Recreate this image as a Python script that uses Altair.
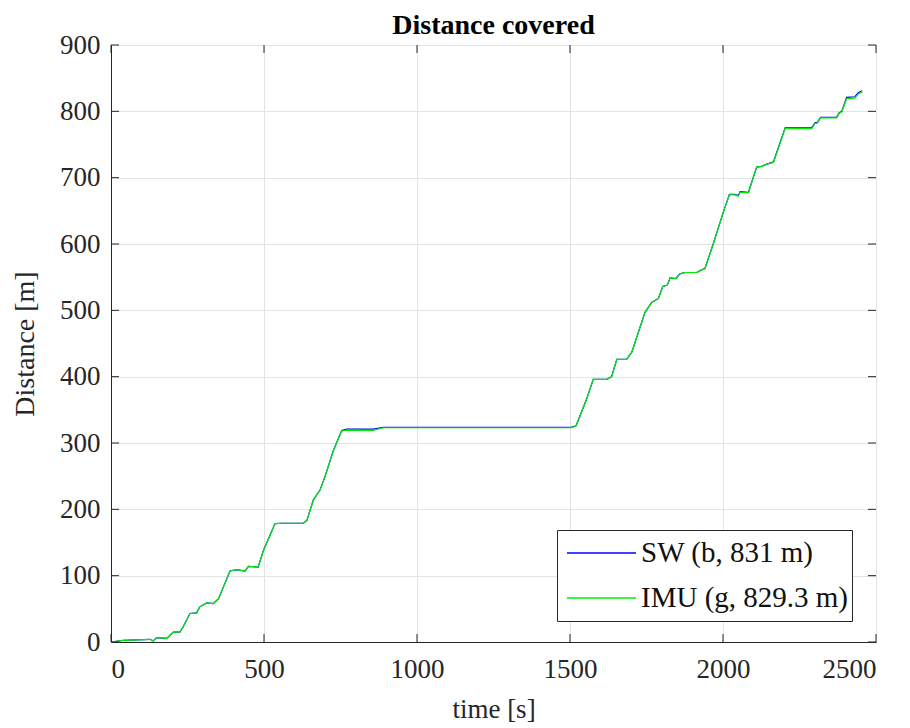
import altair as alt
import pandas as pd

# Time stamps [s] of the sampled track
time_s = [0, 40, 128, 138, 149, 182, 204, 225, 236, 258, 280, 290, 313, 334, 351,
          389, 411, 438, 449, 481, 498, 536, 560, 628, 640, 661, 683, 699, 727, 754,
          770, 857, 890, 1000, 1200, 1400, 1505, 1520, 1555, 1576, 1620, 1636, 1653,
          1685, 1702, 1745, 1767, 1789, 1803, 1818, 1827, 1846, 1859, 1876, 1914,
          1930, 1941, 1968, 2001, 2021, 2039, 2050, 2056, 2083, 2110, 2126, 2141,
          2165, 2203, 2290, 2301, 2308, 2319, 2371, 2380, 2388, 2404, 2431, 2442, 2455]

# Cumulative distance [m] from the smartwatch
dist_sw = [0, 2.5, 4, 1.5, 6.5, 5.5, 15, 15, 23, 43, 44, 53, 59, 58, 65,
           107, 109, 107, 114, 113, 138, 178.5, 179, 179, 183, 214, 229, 249, 289, 319,
           321, 321, 323.5, 323.5, 323.5, 323.5, 323.5, 326, 367, 396, 396, 400, 426,
           426, 437, 497, 512, 518, 536, 538, 549, 548, 555, 557, 557,
           561, 563, 600, 648, 675, 675, 673, 679, 678, 716, 717, 720,
           724, 775, 775, 783, 783, 791, 791, 798, 800, 821, 822, 828, 831]

# Cumulative distance [m] from the IMU
dist_imu = [0, 2.5, 4, 1.5, 6.5, 5.5, 15, 15, 23, 43, 44, 53, 59, 58, 65,
            107, 109, 107, 114, 113, 138, 178.5, 179, 179, 183, 214, 229, 249, 289, 318,
            319.5, 319, 323, 323, 323, 323, 323, 326, 367, 396, 396, 400, 426,
            426, 437, 497, 512, 518, 536, 538, 549, 548, 555, 557, 557,
            561, 563, 600, 648, 674, 674, 672, 678, 677, 716, 717, 720,
            723, 774, 774, 782, 782, 790, 790, 797, 799, 819, 820, 826, 829.3]

series_names = ["SW (b, 831 m)", "IMU (g, 829.3 m)"]
series_colors = ["#0000ff", "#00ee00"]

x_ticks = [0, 500, 1000, 1500, 2000, 2500]
y_ticks = [0, 100, 200, 300, 400, 500, 600, 700, 800, 900]

rows = []
for i, (name, vals) in enumerate(zip(series_names, [dist_sw, dist_imu])):
    for t, d in zip(time_s, vals):
        rows.append({"time": t, "dist": d, "series": name, "order": i})
df = pd.DataFrame(rows)

W, H = 765, 597
FONT = "Liberation Serif"
AX = "#262626"
TICK_LEN = 8

xs = alt.Scale(domain=[0, 2500], nice=False, zero=False)
ys = alt.Scale(domain=[0, 900], nice=False, zero=False)

lines = alt.Chart(df).mark_line(strokeWidth=1.2, interpolate="linear").encode(
    x=alt.X("time:Q", scale=xs, title="time [s]",
            axis=alt.Axis(values=x_ticks, format="d", ticks=False, domain=True,
                          domainColor=AX, labelPadding=14, titlePadding=14,
                          gridColor="#e3e3e3", labelFontSize=27, titleFontSize=27,
                          titleFontWeight="normal")),
    y=alt.Y("dist:Q", scale=ys, title="Distance [m]",
            axis=alt.Axis(values=y_ticks, format="d", ticks=False, domain=True,
                          domainColor=AX, labelPadding=11, titlePadding=20,
                          gridColor="#e3e3e3", labelFontSize=27, titleFontSize=28,
                          titleFontWeight="normal")),
    color=alt.Color("series:N", scale=alt.Scale(domain=series_names, range=series_colors),
                    legend=alt.Legend(orient="none", legendX=446, legendY=485,
                                      title=None, symbolType="stroke",
                                      symbolSize=4761, symbolStrokeWidth=1.5,
                                      clipHeight=40, rowPadding=5, padding=3,
                                      symbolOffset=6, labelOffset=4,
                                      labelFontSize=29, labelFont=FONT,
                                      labelLimit=400,
                                      labelColor="#111111",
                                      fillColor="white", strokeColor=AX)),
    order="order:Q",
    detail="series:N",
)

# Inward tick marks on all four sides (box axes)
xt = pd.DataFrame({"v": x_ticks})
yt = pd.DataFrame({"v": y_ticks})
tick_style = dict(color=AX, strokeWidth=1)
bottom_ticks = alt.Chart(xt).mark_rule(**tick_style).encode(
    x=alt.X("v:Q", scale=xs), y=alt.value(H), y2=alt.value(H - TICK_LEN))
top_ticks = alt.Chart(xt).mark_rule(**tick_style).encode(
    x=alt.X("v:Q", scale=xs), y=alt.value(0), y2=alt.value(TICK_LEN))
left_ticks = alt.Chart(yt).mark_rule(**tick_style).encode(
    y=alt.Y("v:Q", scale=ys), x=alt.value(0), x2=alt.value(TICK_LEN))
right_ticks = alt.Chart(yt).mark_rule(**tick_style).encode(
    y=alt.Y("v:Q", scale=ys), x=alt.value(W), x2=alt.value(W - TICK_LEN))

chart = alt.layer(
    lines, bottom_ticks, top_ticks, left_ticks, right_ticks
).properties(
    width=W, height=H,
    title=alt.TitleParams("Distance covered", fontSize=28, fontWeight="bold",
                          font=FONT, color="#000000", offset=9, dy=18,
                          anchor="middle", frame="group"),
    autosize=alt.AutoSizeParams(type="none"),
    padding={"left": 111, "top": 45, "right": 34, "bottom": 86},
).configure(
    font=FONT,
    background="white",
).configure_axis(
    labelFont=FONT, titleFont=FONT, labelColor="#262626", titleColor="#262626",
    gridWidth=1,
).configure_view(
    stroke=AX, strokeWidth=1,
)

chart.save("out.html", embed_options={"renderer": "svg", "actions": False})
